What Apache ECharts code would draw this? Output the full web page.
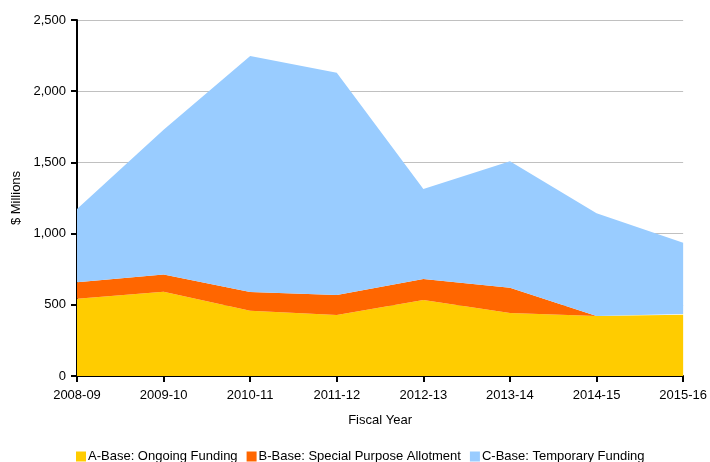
<!DOCTYPE html>
<html><head><meta charset="utf-8">
<script src="https://cdn.jsdelivr.net/npm/echarts@6/dist/echarts.min.js"></script>
<style>html,body{margin:0;padding:0;background:#fff}#c{width:710px;height:462px}</style>
</head><body><div id="c"></div>
<script>
const categories = ['2008-09','2009-10','2010-11','2011-12','2012-13','2013-14','2014-15','2015-16'];
const seriesNames = ['A-Base: Ongoing Funding','B-Base: Special Purpose Allotment','C-Base: Temporary Funding'];
const aBase = [543, 592, 459, 428, 534, 442, 421, 431];
const bBase = [115, 120, 131, 141, 147, 178, 0, 4];
const cBase = [515, 1018, 1657, 1561, 632, 888, 722, 501];
const colors = ['#FFCC00','#FF6600','#99CCFF'];
const font = 'Liberation Sans, Arial, sans-serif';
const chart = echarts.init(document.getElementById('c'));
const data = [aBase, bBase, cBase];
chart.setOption({
  animation: false,
  grid: {left: 77, right: 26, top: 20, bottom: 86},
  legend: {
    left: 76, top: 450, itemWidth: 10, itemHeight: 10, itemGap: 9,
    icon: 'rect', padding: 0,
    textStyle: {fontFamily: font, fontSize: 13, color: '#000', padding: [0,0,0,-3]},
    data: seriesNames
  },
  xAxis: {
    type: 'category', data: categories, boundaryGap: false,
    name: 'Fiscal Year', nameLocation: 'middle', nameGap: 38,
    nameTextStyle: {fontFamily: font, fontSize: 13, color: '#000'},
    axisLine: {lineStyle: {color: '#000', width: 2}},
    axisTick: {show: true, length: 6, lineStyle: {color: '#000', width: 2}},
    axisLabel: {fontFamily: font, fontSize: 13, color: '#000', margin: 13}
  },
  yAxis: {
    type: 'value', min: 0, max: 2500, interval: 500,
    name: '$ Millions', nameLocation: 'middle', nameGap: 45, nameRotate: 90,
    nameTextStyle: {fontFamily: font, fontSize: 13, color: '#000'},
    axisLine: {show: true, lineStyle: {color: '#000', width: 2}},
    axisTick: {show: true, length: 6, lineStyle: {color: '#000', width: 2}},
    axisLabel: {fontFamily: font, fontSize: 13, color: '#000', margin: 11,
      formatter: v => v.toLocaleString('en-US')},
    splitLine: {lineStyle: {color: '#C0C0C0', width: 1}}
  },
  series: seriesNames.map((n, i) => ({
    name: n, type: 'line', stack: 'total', data: data[i],
    symbol: 'none', lineStyle: {width: 0, color: colors[i]},
    itemStyle: {color: colors[i]},
    areaStyle: {color: colors[i], opacity: 1}
  }))
});
</script></body></html>
